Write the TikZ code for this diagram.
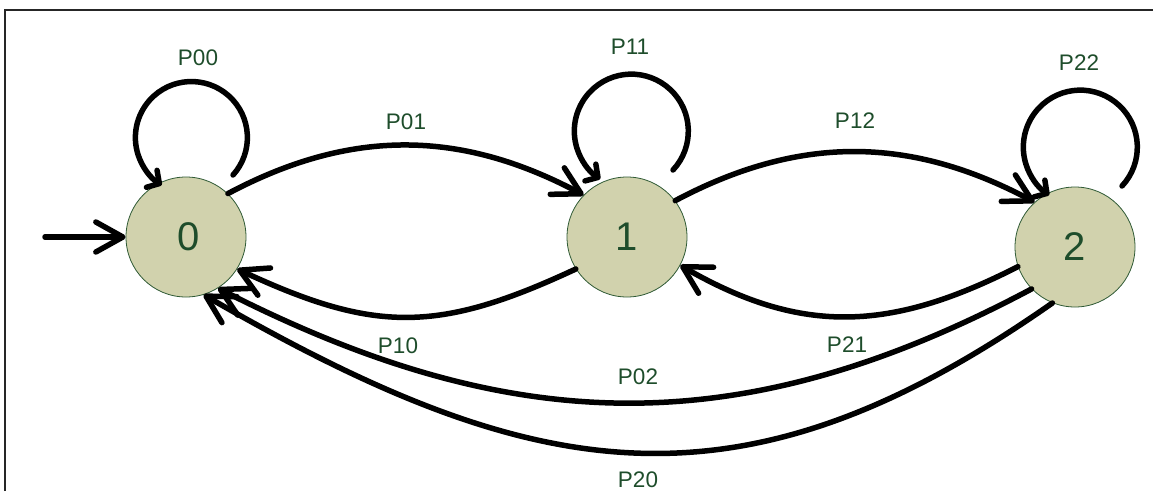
\documentclass[tikz,border=0pt]{standalone}
\usepackage{fontspec}
\setmainfont{Liberation Sans}
\usetikzlibrary{arrows.meta}
\definecolor{nodefill}{HTML}{D1D2AD}
\definecolor{txtgreen}{HTML}{1E4D2B}
\definecolor{nodeline}{HTML}{2F5A35}
\begin{document}
\begin{tikzpicture}[x=1pt,y=1pt,
  state/.style={circle, draw=nodeline, line width=0.8pt, fill=nodefill, minimum size=120pt, inner sep=0pt, font=\fontsize{40}{42}\selectfont, text=txtgreen},
  lbl/.style={font=\fontsize{22.5}{24}\selectfont, text=txtgreen, inner sep=0pt},
  edge/.style={line width=5.5pt, line cap=round, -{Straight Barb[length=27pt,width=30pt,round]}},
  loopedge/.style={line width=5.5pt, line cap=round, -{Straight Barb[length=9pt,width=20pt,round]}},
  frame/.style={line width=2pt, draw=black!85}]
\useasboundingbox (0,0) rectangle (1153,-491);
\draw[frame] (5,-491) -- (5,-10) -- (1153,-10);

\node[state] (n0) at (186,-237) {\hspace{6pt}0};
\node[state] (n1) at (627,-237) {1};
\node[state] (n2) at (1075,-247) {2};

\coordinate (init) at (45,-237);
\draw[edge] (init) -- (n0);

\draw[edge] (n0.46) to[out=28,in=152] (n1.136);
\draw[edge] (n1.37) to[out=28,in=152] (n2.132);
\draw[edge] (n1.212) to[out=205,in=-25,looseness=1.15] (n0.-32);
\draw[edge] (n2.199) to[out=207,in=-30,looseness=1.07] (n1.-28);
\draw[edge] (n2.224) to[out=208,in=-27,looseness=1.04] (n0.-58);
\draw[edge] (n2.248) to[out=215,in=-30,looseness=1.15] (n0.-73);

\draw[loopedge] ([shift={(47,62)}]n0.center) arc[start angle=-42,end angle=238,radius=56];
\draw[loopedge] ([shift={(46,67)}]n1.center) arc[start angle=-43,end angle=237,radius=57];
\draw[loopedge] ([shift={(47,61)}]n2.center) arc[start angle=-43,end angle=237,radius=57];

\node[lbl] (l00) at (198,-58) {P00};
\node[lbl] (l11) at (630,-47) {P11};
\node[lbl] (l22) at (1079,-63) {P22};
\node[lbl] (l01) at (406,-122) {P01};
\node[lbl] (l12) at (855,-121) {P12};
\node[lbl] (l10) at (398,-346) {P10};
\node[lbl] (l21) at (847,-345) {P21};
\node[lbl] (l02) at (638,-377) {P02};
\node[lbl] (l20) at (638,-480) {P20};
\end{tikzpicture}
\end{document}
